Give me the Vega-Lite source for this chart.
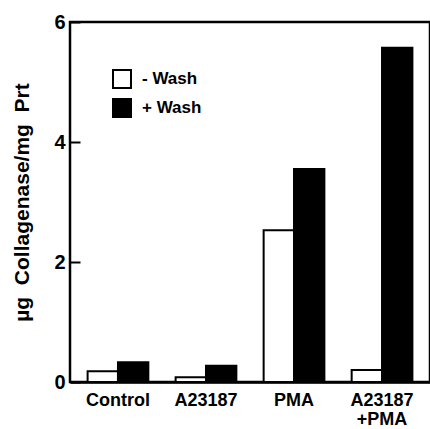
{
  "$schema": "https://vega.github.io/schema/vega-lite/v6.json",
  "width": 360,
  "height": 360,
  "autosize": {"type": "none"},
  "padding": {"left": 70, "top": 22, "right": 0, "bottom": 47},
  "background": "white",
  "config": {
    "view": {"stroke": "black", "strokeWidth": 2.5},
    "font": "Liberation Sans"
  },
  "data": {
    "values": [
      {"treatment": "Control", "wash": "- Wash", "value": 0.18},
      {"treatment": "Control", "wash": "+ Wash", "value": 0.33},
      {"treatment": "A23187", "wash": "- Wash", "value": 0.08},
      {"treatment": "A23187", "wash": "+ Wash", "value": 0.27},
      {"treatment": "PMA", "wash": "- Wash", "value": 2.53},
      {"treatment": "PMA", "wash": "+ Wash", "value": 3.55},
      {"treatment": "A23187+PMA", "wash": "- Wash", "value": 0.2},
      {"treatment": "A23187+PMA", "wash": "+ Wash", "value": 5.57}
    ]
  },
  "mark": {"type": "bar", "stroke": "black", "strokeWidth": 2, "clip": true},
  "encoding": {
    "x": {
      "field": "treatment",
      "type": "nominal",
      "sort": ["Control", "A23187", "PMA", "A23187+PMA"],
      "scale": {"paddingInner": 0.31, "paddingOuter": 0.2},
      "axis": {
        "title": null,
        "labelAngle": 0,
        "ticks": false,
        "domainColor": "black",
        "domainWidth": 2.5,
        "labelFont": "Liberation Sans",
        "labelFontWeight": "bold",
        "labelFontSize": 18,
        "labelColor": "black",
        "labelPadding": 9,
        "labelLineHeight": 19,
        "labelExpr": "datum.value == 'A23187+PMA' ? ['A23187', '+PMA'] : datum.label"
      }
    },
    "xOffset": {
      "field": "wash",
      "type": "nominal",
      "sort": ["- Wash", "+ Wash"],
      "scale": {"paddingInner": 0}
    },
    "y": {
      "field": "value",
      "type": "quantitative",
      "scale": {"domain": [0, 6], "nice": false},
      "axis": {
        "title": "µg\u00a0\u00a0Collagenase/mg\u00a0\u00a0Prt",
        "titleFont": "Liberation Sans",
        "titleFontWeight": "bold",
        "titleFontSize": 21,
        "titleColor": "black",
        "titlePadding": 21,
        "values": [0, 2, 4, 6],
        "grid": false,
        "domain": false,
        "zindex": 2,
        "ticks": true,
        "tickColor": "black",
        "tickWidth": 2,
        "tickSize": -10,
        "labelFont": "Liberation Sans",
        "labelFontWeight": "bold",
        "labelFontSize": 20,
        "labelColor": "black",
        "labelPadding": 15
      }
    },
    "fill": {
      "field": "wash",
      "type": "nominal",
      "sort": ["- Wash", "+ Wash"],
      "scale": {"range": ["white", "black"]},
      "legend": {
        "title": null,
        "orient": "none",
        "legendX": 42,
        "legendY": 47,
        "symbolType": "square",
        "symbolSize": 324,
        "symbolStrokeColor": "black",
        "symbolStrokeWidth": 2,
        "labelFont": "Liberation Sans",
        "labelFontSize": 17,
        "labelFontWeight": "bold",
        "labelColor": "black",
        "labelOffset": 10,
        "rowPadding": 3
      }
    }
  }
}
